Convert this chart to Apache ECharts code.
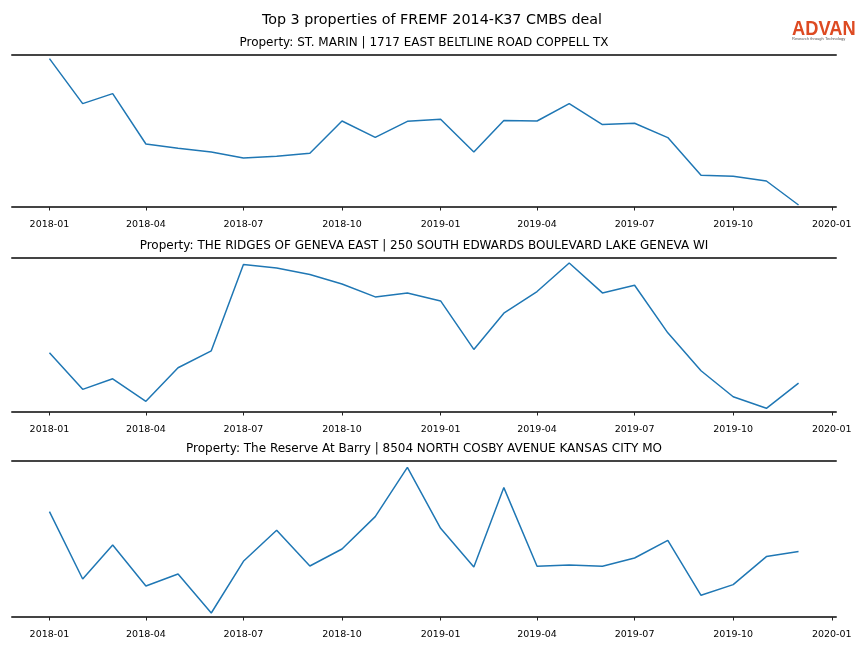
<!DOCTYPE html>
<html>
<head>
<meta charset="utf-8">
<script src="https://cdn.jsdelivr.net/npm/echarts@6/dist/echarts.min.js"></script>
<style>html,body{margin:0;padding:0;background:#fff}#c{width:864px;height:648px}</style>
</head>
<body>
<div id="c"></div>
<script>
var mainTitle = 'Top 3 properties of FREMF 2014-K37 CMBS deal';
var panelTitles = [
  'Property: ST. MARIN | 1717 EAST BELTLINE ROAD COPPELL TX',
  'Property: THE RIDGES OF GENEVA EAST | 250 SOUTH EDWARDS BOULEVARD LAKE GENEVA WI',
  'Property: The Reserve At Barry | 8504 NORTH COSBY AVENUE KANSAS CITY MO'
];
var months = ['2018-01','2018-02','2018-03','2018-04','2018-05','2018-06','2018-07','2018-08','2018-09','2018-10','2018-11','2018-12',
              '2019-01','2019-02','2019-03','2019-04','2019-05','2019-06','2019-07','2019-08','2019-09','2019-10','2019-11','2019-12'];
var tickLabels = ['2018-01','2018-04','2018-07','2018-10','2019-01','2019-04','2019-07','2019-10','2020-01'];
// relative activity index (arbitrary units)
var stMarin = [148.4,103.4,113.4,63,58.7,55,49,50.7,53.7,86,69.7,85.7,87.7,55,86.4,86,103.4,82.4,83.7,69.4,31.7,30.7,26,2];
var ridgesGeneva = [59.3,22.7,33.3,10.7,44.3,61.3,147.7,144.3,137.7,128.3,115.3,119.3,111.3,62.7,99,120.7,149.3,119.3,127,79.3,41.3,15.3,3.7,29];
var reserveBarry = [105.4,38,72,31,43,4,55.7,86.7,51,68,100.4,149.7,88.7,50,129.4,50.7,52,50.7,59,76.7,21.7,32.4,60.4,65.4];
var seriesList = [stMarin, ridgesGeneva, reserveBarry];

function ts(s){var p=s.split('-');return Date.UTC(+p[0],+p[1]-1,1);}
var first=ts(months[0]), last=ts(months[months.length-1]);
var pad=(last-first)*0.05;
var xMin=first-pad, xMax=last+pad;
var tickVals=tickLabels.map(ts);
function fmt(v){var d=new Date(v);var m=d.getUTCMonth()+1;return d.getUTCFullYear()+'-'+(m<10?'0':'')+m;}

var grids=[{top:55,h:152,max:152},{top:258,h:154,max:154.3},{top:461,h:156,max:156}];
var spine={color:'#444',width:2};
var option={animation:false,backgroundColor:'#fff',
  title:[{text:mainTitle,left:432,top:13,padding:0,textAlign:'center',textStyle:{fontFamily:'DejaVu Sans',fontSize:14.3,fontWeight:'normal',color:'#000'}}],
  grid:[],xAxis:[],yAxis:[],series:[],
  graphic:[
    {type:'text',x:792,y:19,scaleX:0.87,style:{text:'ADVAN',fontFamily:'Liberation Sans',fontSize:21,fontWeight:'bold',fill:'#dd4a22'}},
    {type:'text',x:792,y:37,style:{text:'Research through Technology',fontFamily:'Liberation Sans',fontSize:4,fill:'#555'}}
  ]};
grids.forEach(function(g,i){
  option.title.push({text:panelTitles[i],left:424,top:g.top-18,padding:0,textAlign:'center',textStyle:{fontFamily:'DejaVu Sans',fontSize:12,fontWeight:'normal',color:'#000'}});
  option.grid.push({left:12,right:28,top:g.top,height:g.h});
  var base={type:'value',gridIndex:i,min:xMin,max:xMax,splitLine:{show:false}};
  option.xAxis.push(Object.assign({},base,{position:'bottom',offset:6,axisLine:{show:false},
    axisTick:{show:true,length:3.5,lineStyle:{color:'#222',width:1},customValues:tickVals},
    axisLabel:{show:true,margin:7,fontFamily:'DejaVu Sans',fontSize:9.5,color:'#000',customValues:tickVals,showMinLabel:true,showMaxLabel:true,formatter:fmt}}));
  option.xAxis.push(Object.assign({},base,{position:'bottom',axisLine:{show:true,lineStyle:spine},axisTick:{show:false},axisLabel:{show:false}}));
  option.xAxis.push(Object.assign({},base,{position:'top',axisLine:{show:true,lineStyle:spine},axisTick:{show:false},axisLabel:{show:false}}));
  option.yAxis.push({type:'value',gridIndex:i,min:0,max:g.max,show:false});
  option.series.push({type:'line',xAxisIndex:i*3,yAxisIndex:i,showSymbol:false,symbol:'none',
    lineStyle:{color:'#1f77b4',width:1.5},
    data:months.map(function(m,k){return [ts(m),seriesList[i][k]];})});
});
var chart=echarts.init(document.getElementById('c'),null,{renderer:'canvas'});
chart.setOption(option);
</script>
</body>
</html>
